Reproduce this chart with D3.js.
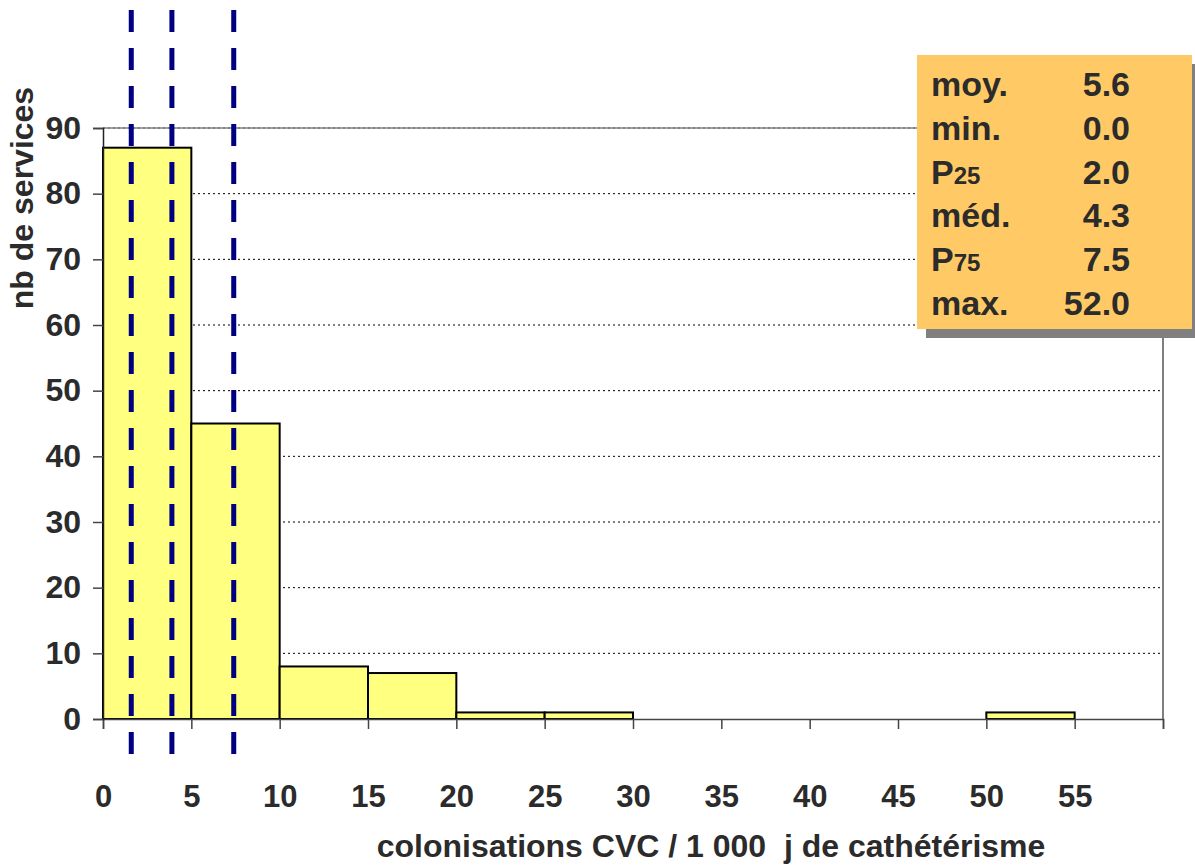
<!DOCTYPE html>
<meta charset="utf-8">
<style>
body { margin: 0; background: #fff; }
text { font-family: "Liberation Sans", Arial, sans-serif; font-weight: bold; fill: #2b2b2b; }
.grid line { stroke: #000; stroke-width: 1; stroke-dasharray: 2,3; }
</style>
<script src="https://d3js.org/d3.v7.min.js"></script>
<body>
<div id="chart"></div>
<script>
// histogram bins (lower bound, upper bound) and counts
var binStart = [0, 5, 10, 15, 20, 25, 50];
var binEnd   = [5, 10, 15, 20, 25, 30, 55];
var counts   = [87, 45, 8, 7, 1, 1, 1];

// dashed vertical markers (P25, median, P75 as drawn)
var markerX = [1.6, 3.9, 7.4];

// summary box
var statLabels = ["moy.", "min.", "P", "méd.", "P", "max."];
var statSubs   = ["", "", "25", "", "75", ""];
var statValues = ["5.6", "0.0", "2.0", "4.3", "7.5", "52.0"];

var xTicks = [0, 5, 10, 15, 20, 25, 30, 35, 40, 45, 50, 55, 60];
var xTickLabels = ["0", "5", "10", "15", "20", "25", "30", "35", "40", "45", "50", "55", ""];
var yTicks = [0, 10, 20, 30, 40, 50, 60, 70, 80, 90];

var W = 1195, H = 865;
var margin = {top: 128, right: 32, bottom: 146, left: 103},
    width = W - margin.left - margin.right,
    height = H - margin.top - margin.bottom;

var svg = d3.select("#chart").append("svg")
    .attr("width", W).attr("height", H);
var g = svg.append("g")
    .attr("transform", "translate(" + margin.left + "," + margin.top + ")");

var x = d3.scaleLinear().domain([0, 60]).range([0, width]);
var y = d3.scaleLinear().domain([0, 90]).range([height, 0]);

// gridlines
g.append("g").attr("class", "grid")
  .selectAll("line")
  .data(yTicks.slice(1))
  .enter().append("line")
    .attr("x1", 0).attr("x2", width)
    .attr("y1", function(d) { return y(d); })
    .attr("y2", function(d) { return y(d); });

// frame top + right
g.append("line").attr("x1", 0).attr("x2", width).attr("y1", 0).attr("y2", 0)
  .attr("stroke", "#808080").attr("stroke-width", 1.5);
g.append("line").attr("x1", width).attr("x2", width).attr("y1", 0).attr("y2", height)
  .attr("stroke", "#555").attr("stroke-width", 1.5);

// bars
var bins = counts.map(function(c, i) { return {x0: binStart[i], x1: binEnd[i], n: c}; });
g.selectAll("rect.bar")
  .data(bins)
  .enter().append("rect")
    .attr("class", "bar")
    .attr("x", function(d) { return x(d.x0); })
    .attr("y", function(d) { return y(d.n); })
    .attr("width", function(d) { return x(d.x1) - x(d.x0); })
    .attr("height", function(d) { return y(0) - y(d.n); })
    .attr("fill", "#ffff80")
    .attr("stroke", "#000")
    .attr("stroke-width", 2);

// axes
var xAxis = g.append("g")
  .attr("transform", "translate(0," + height + ")")
  .call(d3.axisBottom(x).tickValues(xTicks).tickSize(10).tickPadding(56)
        .tickFormat(function(d, i) { return xTickLabels[i]; }));
xAxis.select(".domain").attr("stroke", "#444").attr("stroke-width", 1.5);
xAxis.selectAll(".tick line").attr("stroke", "#444").attr("stroke-width", 1.5);
xAxis.selectAll("text").style("font-size", "31px").attr("fill", "#2b2b2b");

var yAxis = g.append("g")
  .call(d3.axisLeft(y).tickValues(yTicks).tickSize(10).tickPadding(12));
yAxis.select(".domain").attr("stroke", "#222").attr("stroke-width", 1.5);
yAxis.selectAll(".tick line").attr("stroke", "#444").attr("stroke-width", 1.5);
yAxis.selectAll("text").style("font-size", "32px").attr("fill", "#2b2b2b");

// dashed markers
g.selectAll("line.marker")
  .data(markerX)
  .enter().append("line")
    .attr("class", "marker")
    .attr("x1", function(d) { return x(d); })
    .attr("x2", function(d) { return x(d); })
    .attr("y1", -118).attr("y2", height + 37)
    .attr("stroke", "#000080")
    .attr("stroke-width", 5)
    .attr("stroke-dasharray", "22,16");

// axis titles
svg.append("text")
  .attr("transform", "translate(33,198) rotate(-90)")
  .style("text-anchor", "middle")
  .style("font-size", "32px")
  .text("nb de services");

svg.append("text")
  .attr("x", 711).attr("y", 857)
  .style("text-anchor", "middle")
  .style("font-size", "32px")
  .style("white-space", "pre")
  .text("colonisations CVC / 1 000  j de cathétérisme");

// summary box
var box = svg.append("g").attr("transform", "translate(917,55)");
box.append("rect").attr("x", 9).attr("y", 9).attr("width", 275).attr("height", 274)
  .attr("fill", "#808080");
box.append("rect").attr("x", 0).attr("y", 0).attr("width", 275).attr("height", 274)
  .attr("fill", "#ffc966");

statLabels.forEach(function(lab, i) {
  var t = box.append("text")
    .attr("x", 14).attr("y", 41 + i * 43.8)
    .style("font-size", "34px");
  t.append("tspan").text(lab);
  if (statSubs[i]) t.append("tspan").style("font-size", "24px").text(statSubs[i]);
  box.append("text")
    .attr("x", 213).attr("y", 41 + i * 43.8)
    .style("text-anchor", "end")
    .style("font-size", "34px")
    .text(statValues[i]);
});
</script>
</body>
